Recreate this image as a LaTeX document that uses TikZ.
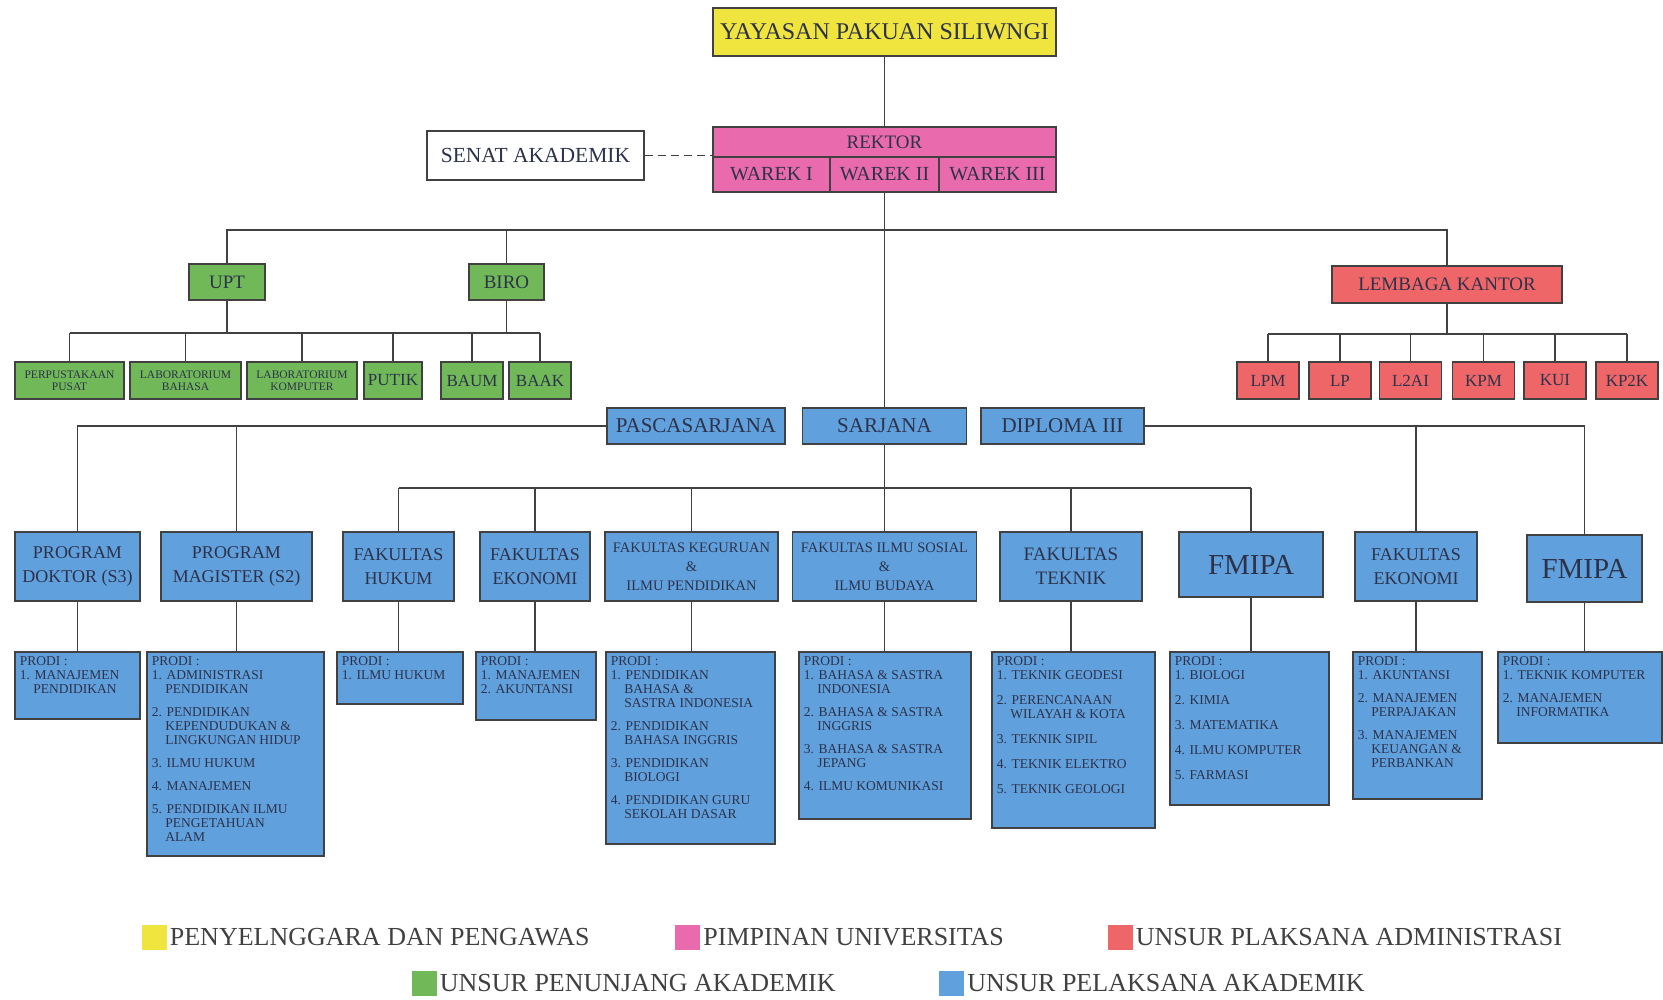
\documentclass[tikz,border=0pt]{standalone}
\usepackage{fontspec}
\setmainfont{Liberation Serif}
\usetikzlibrary{positioning}

\definecolor{kuning}{RGB}{240,228,62}
\definecolor{merahmuda}{RGB}{234,106,174}
\definecolor{hijau}{RGB}{112,184,88}
\definecolor{merah}{RGB}{238,102,104}
\definecolor{biru}{RGB}{96,160,220}
\definecolor{garis}{RGB}{65,65,65}
\definecolor{tulisan}{RGB}{45,50,75}

\newcommand{\pind}{\hspace*{1em}}
\newcommand{\plist}[3]{\parbox[c][#2][t]{#1}{\raggedright #3}}

\tikzset{
  fs/.style 2 args={font=\fontsize{#1}{#2}\selectfont},
  wh/.style 2 args={minimum width=#1pt, minimum height=#2pt},
  kotak/.style={draw=garis, line width=1.8pt, inner sep=0pt, align=center, text=tulisan},
  pimpinan/.style={kotak, fill=merahmuda},
  penunjang/.style={kotak, fill=hijau},
  admin/.style={kotak, fill=merah},
  akademik/.style={kotak, fill=biru},
  prodi/.style={akademik, anchor=north west, inner sep=5pt, align=left, fs={13.5}{14}},
  conn/.style={draw=garis, line width=1.8pt},
  legsq/.style={minimum size=25pt, inner sep=0pt},
  legtxt/.style={inner sep=0pt, fs={26}{28}, text=black!75},
}

\begin{document}
\begin{tikzpicture}[x=1pt, y=-1pt]
  \useasboundingbox (0,0) rectangle (1663,1000);

  % yayasan, rektor, senat
  \node[kotak, fill=kuning, wh={343}{48}, fs={24}{26}] (yayasan) at (884.5,32) {YAYASAN PAKUAN SILIWNGI};
  \node[kotak, fill=white, wh={217}{49}, fs={21.5}{24}] (senat) at (535.5,155.5) {SENAT AKADEMIK};
  \node[pimpinan, wh={343}{30}, fs={19}{22}] (rektor) at (884.5,142) {REKTOR};
  \node[pimpinan, wh={117}{35}, fs={20}{22}] (warek1) at (771.5,174.5) {WAREK I};
  \node[pimpinan, wh={109}{35}, fs={20}{22}] (warek2) at (884.5,174.5) {WAREK II};
  \node[pimpinan, wh={117}{35}, fs={20}{22}] (warek3) at (997.5,174.5) {WAREK III};

  \draw[conn] (yayasan) -- (rektor);
  \draw[conn, dash pattern=on 8pt off 5pt] (senat.east) -- (senat.east -| rektor.west);

  % penunjang akademik
  \node[penunjang, wh={76}{36}, fs={19}{22}] (upt) at (227,282) {UPT};
  \node[penunjang, wh={75}{36}, fs={19}{22}] (biro) at (506.5,282) {BIRO};
  \node[penunjang, wh={109}{37}, fs={11.5}{12}] (perpus) at (69.5,380.5) {PERPUSTAKAAN\\PUSAT};
  \node[penunjang, wh={111}{37}, fs={11.5}{12}] (labbhs) at (185.5,380.5) {LABORATORIUM\\BAHASA};
  \node[penunjang, wh={110}{37}, fs={11.5}{12}] (labkom) at (302,380.5) {LABORATORIUM\\KOMPUTER};
  \node[penunjang, wh={58}{37}, fs={17}{20}] (putik) at (393,380.5) {PUTIK};
  \node[penunjang, wh={62}{37}, fs={17}{20}] (baum) at (472,380.5) {BAUM};
  \node[penunjang, wh={62}{37}, fs={17}{20}] (baak) at (540,380.5) {BAAK};

  % pelaksana administrasi
  \node[admin, wh={230}{37}, fs={19}{22}] (lembaga) at (1447,284.5) {LEMBAGA KANTOR};
  \node[admin, wh={62}{37}, fs={17}{20}] (lpm) at (1268,380.5) {LPM};
  \node[admin, wh={62}{37}, fs={17}{20}] (lp) at (1340,380.5) {LP};
  \node[admin, wh={62}{37}, fs={17}{20}] (ltwoai) at (1410.5,380.5) {L2AI};
  \node[admin, wh={62}{37}, fs={17}{20}] (kpm) at (1483.5,380.5) {KPM};
  \node[admin, wh={62}{37}, fs={17}{20}] (kui) at (1555,380.5) {KUI};
  \node[admin, wh={62}{37}, fs={17}{20}] (kptwok) at (1627,380.5) {KP2K};

  \coordinate (bus) at (884.5,230);
  \coordinate (gbus) at (0,333);
  \coordinate (rbus) at (0,334);
  \draw[conn] (upt.north) |- (lembaga.north |- bus) -- (lembaga.north);
  \draw[conn] (biro.north) -- (biro.north |- bus);
  \draw[conn] (upt.south) -- (upt.south |- gbus);
  \draw[conn] (biro.south) -- (biro.south |- gbus);
  \draw[conn] (perpus.north |- gbus) -- (baak.north |- gbus);
  \foreach \n in {perpus,labbhs,labkom,putik,baum,baak}
    \draw[conn] (\n.north) -- (\n.north |- gbus);
  \draw[conn] (lembaga.south) -- (lembaga.south |- rbus);
  \draw[conn] (lpm.north |- rbus) -- (kptwok.north |- rbus);
  \foreach \n in {lpm,lp,ltwoai,kpm,kui,kptwok}
    \draw[conn] (\n.north) -- (\n.north |- rbus);

  % pelaksana akademik
  \node[akademik, wh={178}{36}, fs={21}{24}] (pasca) at (696,426) {PASCASARJANA};
  \node[akademik, wh={164}{36}, fs={21}{24}] (sarjana) at (884.5,426) {SARJANA};
  \node[akademik, wh={163}{36}, fs={21}{24}] (diploma) at (1062.5,426) {DIPLOMA III};
  \draw[conn] (warek2.south) -- (sarjana.north);

  \node[akademik, wh={125}{69}, fs={18}{24}] (doktor) at (77.5,566.5) {PROGRAM\\DOKTOR (S3)};
  \node[akademik, wh={151}{69}, fs={18}{24}] (magister) at (236.5,566.5) {PROGRAM\\MAGISTER (S2)};
  \node[akademik, wh={111}{69}, fs={18}{24}] (hukum) at (398.5,566.5) {FAKULTAS\\HUKUM};
  \node[akademik, wh={110}{69}, fs={18}{24}] (ekonomi) at (535,566.5) {FAKULTAS\\EKONOMI};
  \node[akademik, wh={173}{69}, fs={14.5}{19}] (fkip) at (691.5,566.5) {FAKULTAS KEGURUAN\\\&\\ILMU PENDIDIKAN};
  \node[akademik, wh={184}{69}, fs={14.5}{19}] (fisib) at (884.5,566.5) {FAKULTAS ILMU SOSIAL\\\&\\ILMU BUDAYA};
  \node[akademik, wh={142}{69}, fs={19}{24}] (teknik) at (1071,566.5) {FAKULTAS\\TEKNIK};
  \node[akademik, wh={144}{65}, fs={29}{32}] (fmipa) at (1251,564.5) {FMIPA};
  \node[akademik, wh={122}{69}, fs={18}{24}] (ekodiii) at (1416,566.5) {FAKULTAS\\EKONOMI};
  \node[akademik, wh={115}{67}, fs={29}{32}] (fmipadiii) at (1584.5,568.5) {FMIPA};

  \coordinate (sbus) at (884.5,488);
  \draw[conn] (pasca.west) -| (doktor.north);
  \draw[conn] (magister.north) -- (magister.north |- pasca.west);
  \draw[conn] (diploma.east) -| (fmipadiii.north);
  \draw[conn] (ekodiii.north) -- (ekodiii.north |- diploma.east);
  \draw[conn] (sarjana.south) -- (fisib.north);
  \draw[conn] (hukum.north |- sbus) -- (fmipa.north |- sbus);
  \foreach \n in {hukum,ekonomi,fkip,teknik,fmipa}
    \draw[conn] (\n.north) -- (\n.north |- sbus);

  % prodi
  \node[prodi] (pdoktor) at (14,651) {\plist{115pt}{57pt}{PRODI :\\1. MANAJEMEN\\\pind PENDIDIKAN}};
  \node[prodi] (pmagister) at (146,651) {\plist{167pt}{194pt}{PRODI :\\1. ADMINISTRASI\\\pind PENDIDIKAN\\[9pt]2. PENDIDIKAN\\\pind KEPENDUDUKAN \&\\\pind LINGKUNGAN HIDUP\\[9pt]3. ILMU HUKUM\\[9pt]4. MANAJEMEN\\[9pt]5. PENDIDIKAN ILMU\\\pind PENGETAHUAN\\\pind ALAM}};
  \node[prodi] (phukum) at (336,651) {\plist{116pt}{42pt}{PRODI :\\1. ILMU HUKUM}};
  \node[prodi] (pekonomi) at (475,651) {\plist{110pt}{58pt}{PRODI :\\1. MANAJEMEN\\2. AKUNTANSI}};
  \node[prodi] (pfkip) at (605,651) {\plist{159pt}{182pt}{PRODI :\\1. PENDIDIKAN\\\pind BAHASA \&\\\pind SASTRA INDONESIA\\[9pt]2. PENDIDIKAN\\\pind BAHASA INGGRIS\\[9pt]3. PENDIDIKAN\\\pind BIOLOGI\\[9pt]4. PENDIDIKAN GURU\\\pind SEKOLAH DASAR}};
  \node[prodi] (pfisib) at (798,651) {\plist{162pt}{157pt}{PRODI :\\1. BAHASA \& SASTRA\\\pind INDONESIA\\[9pt]2. BAHASA \& SASTRA\\\pind INGGRIS\\[9pt]3. BAHASA \& SASTRA\\\pind JEPANG\\[9pt]4. ILMU KOMUNIKASI}};
  \node[prodi] (pteknik) at (991,651) {\plist{153pt}{166pt}{PRODI :\\1. TEKNIK GEODESI\\[11pt]2. PERENCANAAN\\\pind WILAYAH \& KOTA\\[11pt]3. TEKNIK SIPIL\\[11pt]4. TEKNIK ELEKTRO\\[11pt]5. TEKNIK GEOLOGI}};
  \node[prodi] (pfmipa) at (1169,651) {\plist{149pt}{143pt}{PRODI :\\1. BIOLOGI\\[11pt]2. KIMIA\\[11pt]3. MATEMATIKA\\[11pt]4. ILMU KOMPUTER\\[11pt]5. FARMASI}};
  \node[prodi] (pekodiii) at (1352,651) {\plist{119pt}{137pt}{PRODI :\\1. AKUNTANSI\\[9pt]2. MANAJEMEN\\\pind PERPAJAKAN\\[9pt]3. MANAJEMEN\\\pind KEUANGAN \&\\\pind PERBANKAN}};
  \node[prodi] (pfmipadiii) at (1497,651) {\plist{154pt}{81pt}{PRODI :\\1. TEKNIK KOMPUTER\\[9pt]2. MANAJEMEN\\\pind INFORMATIKA}};

  \foreach \a/\b in {doktor/pdoktor, magister/pmagister, hukum/phukum, ekonomi/pekonomi, fkip/pfkip, fisib/pfisib, teknik/pteknik, fmipa/pfmipa, ekodiii/pekodiii, fmipadiii/pfmipadiii}
    \draw[conn] (\a.south) -- (\a.south |- \b.north);

  % keterangan
  \node[legsq, fill=kuning] (lg1) at (154,937) {};
  \node[legtxt, right=3pt of lg1] (lt1) {PENYELNGGARA DAN PENGAWAS};
  \node[legsq, fill=merahmuda] (lg2) at (687.5,937) {};
  \node[legtxt, right=3pt of lg2] (lt2) {PIMPINAN UNIVERSITAS};
  \node[legsq, fill=merah] (lg3) at (1120,937) {};
  \node[legtxt, right=3pt of lg3] (lt3) {UNSUR PLAKSANA ADMINISTRASI};
  \node[legsq, fill=hijau] (lg4) at (424,983) {};
  \node[legtxt, right=3pt of lg4] (lt4) {UNSUR PENUNJANG AKADEMIK};
  \node[legsq, fill=biru] (lg5) at (951.5,983) {};
  \node[legtxt, right=3pt of lg5] (lt5) {UNSUR PELAKSANA AKADEMIK};
\end{tikzpicture}
\end{document}
